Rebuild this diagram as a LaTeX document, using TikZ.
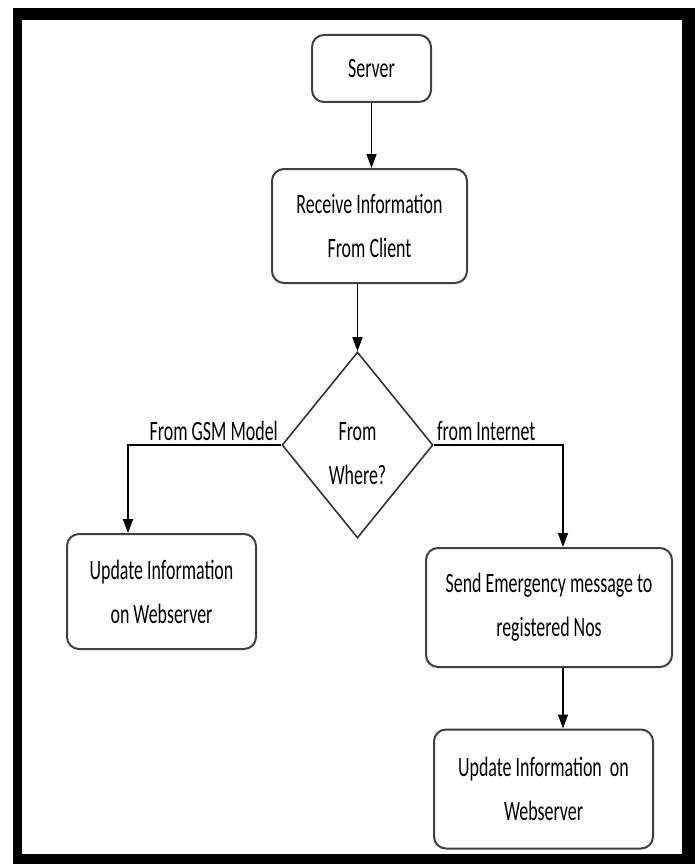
\documentclass[tikz,border=0pt]{standalone}
\usepackage{fontspec}
\setmainfont{Carlito}[FakeStretch=0.64]
\usetikzlibrary{arrows.meta,shapes.geometric}
\tikzset{
  box/.style={draw=black!75, line width=2pt, rounded corners=12pt, fill=white,
    align=center, inner sep=0pt, font=\fontsize{28}{44}\selectfont},
  lbl/.style={inner sep=0pt, font=\fontsize{28}{44}\selectfont},
  conn/.style={draw=black, line width=1.6pt, -{Triangle[length=14pt,width=10pt]}},
}
\begin{document}
\begin{tikzpicture}[x=1pt,y=-1pt]
\useasboundingbox (0,0) rectangle (695,864);
\fill[black] (13,8) rectangle (695,864);
\fill[white] (22,20) rectangle (682,854);

\node[box, minimum width=119pt, minimum height=67pt] (server) at (371.5,68.5) {Server};
\node[box, minimum width=195pt, minimum height=114pt] (receive) at (369.5,226) {Receive Information\\From Client};
\node[diamond, draw=black!80, line width=1.6pt, inner sep=0pt, minimum width=151pt, minimum height=186pt] (where) at (357.5,445) {};
\node[lbl, align=center] (wheretext) at (357.5,454) {From\\Where?};
\node[box, minimum width=189pt, minimum height=115pt] (upd1) at (161.5,591.5) {Update Information\\on Webserver};
\node[box, minimum width=246pt, minimum height=119pt] (send) at (549,607.5) {Send Emergency message to\\registered Nos};
\node[box, minimum width=219pt, minimum height=119pt] (upd2) at (543.5,789) {Update Information~~on\\Webserver};

\node[lbl, anchor=base east] (gsm) at (278,440) {From GSM Model};
\node[lbl, anchor=base west] (inet) at (437,440) {from Internet};

\draw[conn] (server.south) -- (server.south |- receive.north);
\draw[conn] (where.north |- receive.south) -- (where.north);
\draw[conn] (where.west) -| ([xshift=-33.5pt]upd1.north);
\draw[conn] (where.east) -| ([xshift=14pt]send.north);
\draw[conn] ([xshift=14pt]send.south) -- ([xshift=14pt]send.south |- upd2.north);
\end{tikzpicture}
\end{document}
